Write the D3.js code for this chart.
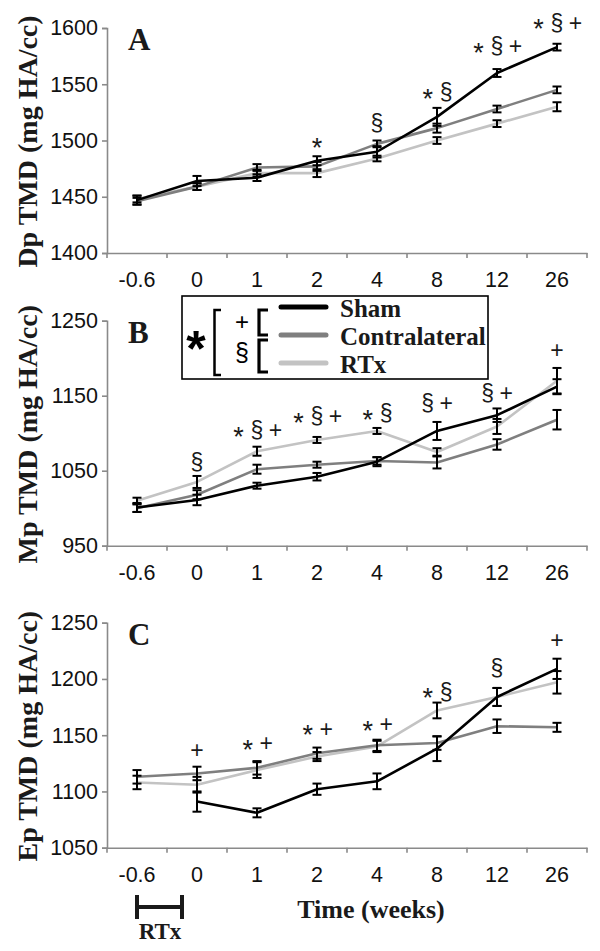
<!DOCTYPE html>
<html>
<head>
<meta charset="utf-8">
<script src="https://cdn.jsdelivr.net/npm/d3@7"></script>
<style>
  html, body { margin: 0; padding: 0; background: #fff; }
  svg { display: block; }
</style>
</head>
<body>
<svg id="chart" width="600" height="951"></svg>
<script>
// ---------- data ----------
const weeks = ["-0.6", "0", "1", "2", "4", "8", "12", "26"];
const seriesNames = ["Sham", "Contralateral", "RTx"];

// Panel A: Dp TMD
const ticksA = [1400, 1450, 1500, 1550, 1600];
const shamA = [1447, 1464, 1467, 1482, 1490, 1521, 1560, 1583];
const shamAErr = [4, 4.5, 3, 4, 5, 8, 3.5, 3];
const contraA = [1446, 1459, 1476, 1477, 1497, 1511, 1528, 1545];
const contraAErr = [3, 3, 3, 4, 3, 4, 3, 3];
const rtxA = [1448, 1459, 1471, 1471, 1484, 1500, 1515, 1530];
const rtxAErr = [3, 3, 3, 3.5, 2.5, 3, 3, 4];
const annA = ["", "", "", "*", "§", "* §", "* § +", "* § +"];
const annALevel = [null, null, null, 1500, 1516, 1543, 1584, 1605];

// Panel B: Mp TMD
const ticksB = [950, 1050, 1150, 1250];
const shamB = [1001, 1011, 1030, 1042, 1062, 1103, 1124, 1162];
const shamBErr = [6, 7, 4, 5, 6, 12, 9, 10];
const contraB = [1000, 1018, 1052, 1058, 1063, 1061, 1085, 1118];
const contraBErr = [5, 6, 6, 4, 5, 8, 7, 13];
const rtxB = [1010, 1035, 1076, 1091, 1103, 1075, 1109, 1170];
const rtxBErr = [4, 8, 6, 4, 4, 5, 10, 17];
const annB = ["", "§", "* § +", "* § +", "* §", "§ +", "§ +", "+"];
const annBLevel = [null, 1062, 1104, 1123, 1127, 1140, 1154, 1211];

// Panel C: Ep TMD
const ticksC = [1050, 1100, 1150, 1200, 1250];
const shamC = [null, 1091, 1081, 1102, 1109, 1138, 1184, 1209];
const shamCErr = [null, 9, 4, 5, 7, 11, 8, 9];
const contraC = [1113, 1116, 1121, 1134, 1141, 1143, 1158, 1157];
const contraCErr = [6, 6, 6, 5, 5, 6, 6, 4];
const rtxC = [1108, 1106, 1119, 1131, 1140, 1172, 1184, 1197];
const rtxCErr = [6, 7, 7, 4, 5, 7, 8, 10];
const annC = ["", "+", "* +", "* +", "* +", "* §", "§", "+"];
const annCLevel = [null, 1137, 1143, 1156, 1160, 1189, 1210, 1235];

// ---------- layout / style ----------
const colors = { "Sham": "#000000", "Contralateral": "#7f7f7f", "RTx": "#c3c3c3" };
const axisColor = "#8a8a8a";
const plotLeft = 107, plotRight = 587, plotH = 225;
const sansFont = "'Liberation Sans', Arial, sans-serif";
const serifFont = "'Liberation Serif', 'Times New Roman', serif";

const panels = [
  { letter: "A", title: "Dp TMD (mg HA/cc)", top: 28, ticks: ticksA,
    data: { "Sham": [shamA, shamAErr], "Contralateral": [contraA, contraAErr], "RTx": [rtxA, rtxAErr] },
    ann: annA, annLevel: annALevel },
  { letter: "B", title: "Mp TMD (mg HA/cc)", top: 320.7, ticks: ticksB,
    data: { "Sham": [shamB, shamBErr], "Contralateral": [contraB, contraBErr], "RTx": [rtxB, rtxBErr] },
    ann: annB, annLevel: annBLevel },
  { letter: "C", title: "Ep TMD (mg HA/cc)", top: 622.7, ticks: ticksC,
    data: { "Sham": [shamC, shamCErr], "Contralateral": [contraC, contraCErr], "RTx": [rtxC, rtxCErr] },
    ann: annC, annLevel: annCLevel }
];

const svg = d3.select("#chart");
const x = d3.scaleBand().domain(weeks).range([plotLeft, plotRight]).padding(0);
const cx = d => x(d) + x.bandwidth() / 2;

panels.forEach(p => {
  const bottom = p.top + plotH;
  const y = d3.scaleLinear().domain([p.ticks[0], p.ticks[p.ticks.length - 1]]).range([bottom, p.top]);
  const g = svg.append("g");

  // y axis
  const yAx = g.append("g").attr("transform", `translate(${plotLeft},0)`)
    .call(d3.axisLeft(y).tickValues(p.ticks).tickSize(5).tickPadding(4).tickFormat(d3.format("d")));
  yAx.select(".domain").attr("stroke", axisColor).attr("stroke-width", 1.6);
  yAx.selectAll(".tick line").attr("stroke", axisColor).attr("stroke-width", 1.6);
  yAx.selectAll(".tick text").attr("font-family", sansFont).attr("font-size", 21.5).attr("fill", "#111");

  // x axis (labels at band centres, tick marks at band edges)
  const xAx = g.append("g").attr("transform", `translate(0,${bottom})`)
    .call(d3.axisBottom(x).tickSize(0).tickPadding(19).tickSizeOuter(0));
  xAx.select(".domain").attr("stroke", axisColor).attr("stroke-width", 1.6);
  xAx.selectAll(".tick text").attr("font-family", sansFont).attr("font-size", 21.5).attr("fill", "#111");
  const edges = weeks.map(w => x(w)).concat([x.range()[1]]);
  xAx.selectAll("line.edge").data(edges).enter().append("line")
    .attr("class", "edge").attr("x1", d => d).attr("x2", d => d)
    .attr("y1", 0).attr("y2", 5).attr("stroke", axisColor).attr("stroke-width", 1.6);

  // y axis title
  g.append("text")
    .attr("transform", `translate(37,${(p.top + bottom) / 2 + 1}) rotate(-90)`)
    .attr("text-anchor", "middle")
    .attr("font-family", serifFont).attr("font-weight", "bold").attr("font-size", 28)
    .attr("fill", "#1a1a1a")
    .text(p.title);

  // panel letter
  g.append("text")
    .attr("x", 128).attr("y", p.top + 22)
    .attr("font-family", serifFont).attr("font-weight", "bold").attr("font-size", 31)
    .attr("fill", "#1a1a1a")
    .text(p.letter);

  // lines
  const line = d3.line()
    .defined(d => d.v != null)
    .x(d => cx(d.w)).y(d => y(d.v));
  ["RTx", "Contralateral", "Sham"].forEach(name => {
    const vals = p.data[name][0];
    const pts = weeks.map((w, i) => ({ w, v: vals[i] }));
    g.append("path").datum(pts)
      .attr("d", line).attr("fill", "none")
      .attr("stroke", colors[name]).attr("stroke-width", 2.6)
      .attr("stroke-linejoin", "round");
  });

  // error bars (black)
  ["RTx", "Contralateral", "Sham"].forEach(name => {
    const [vals, errs] = p.data[name];
    const pts = weeks.map((w, i) => ({ w, v: vals[i], e: errs[i] })).filter(d => d.v != null);
    const eb = g.append("g").attr("stroke", "#000").attr("stroke-width", 2);
    eb.selectAll("line.v").data(pts).enter().append("line")
      .attr("x1", d => cx(d.w)).attr("x2", d => cx(d.w))
      .attr("y1", d => y(d.v - d.e)).attr("y2", d => y(d.v + d.e));
    eb.selectAll("line.t").data(pts).enter().append("line")
      .attr("x1", d => cx(d.w) - 4.5).attr("x2", d => cx(d.w) + 4.5)
      .attr("y1", d => y(d.v + d.e)).attr("y2", d => y(d.v + d.e));
    eb.selectAll("line.b").data(pts).enter().append("line")
      .attr("x1", d => cx(d.w) - 4.5).attr("x2", d => cx(d.w) + 4.5)
      .attr("y1", d => y(d.v - d.e)).attr("y2", d => y(d.v - d.e));
  });

  // significance annotations: one text per symbol, evenly spaced
  weeks.forEach((w, i) => {
    if (!p.ann[i]) return;
    const toks = p.ann[i].split(" ");
    const yc = y(p.annLevel[i]);
    toks.forEach((tok, k) => {
      const xc = cx(w) + (k - (toks.length - 1) / 2) * 18.5;
      const t = g.append("text")
        .attr("x", xc).attr("text-anchor", "middle")
        .attr("font-family", sansFont).attr("fill", "#1a1a1a").text(tok);
      if (tok === "*") {
        t.attr("font-size", 27).attr("y", yc + 16);
      } else {
        t.attr("font-size", 23).attr("y", yc).attr("dy", "0.36em");
      }
    });
  });
});

// ---------- legend ----------
const lg = svg.append("g");
lg.append("rect").attr("x", 182).attr("y", 296).attr("width", 306).attr("height", 83)
  .attr("fill", "#fff").attr("stroke", "#000").attr("stroke-width", 1.6);
lg.append("text").attr("x", 196).attr("y", 366).attr("text-anchor", "middle")
  .attr("font-family", sansFont).attr("font-weight", "bold").attr("font-size", 50).attr("fill", "#000")
  .text("*");
lg.append("path").attr("d", "M221,310 H214.5 V375 H221")
  .attr("fill", "none").attr("stroke", "#000").attr("stroke-width", 2.5);
lg.append("text").attr("x", 242).attr("y", 322).attr("dy", "0.35em").attr("text-anchor", "middle")
  .attr("font-family", sansFont).attr("font-size", 24).attr("fill", "#000").text("+");
lg.append("text").attr("x", 242).attr("y", 352).attr("dy", "0.35em").attr("text-anchor", "middle")
  .attr("font-family", sansFont).attr("font-size", 25).attr("fill", "#000").text("§");
lg.append("path").attr("d", "M268,310 H259 V335 H268")
  .attr("fill", "none").attr("stroke", "#000").attr("stroke-width", 3.2);
lg.append("path").attr("d", "M268,340 H259 V372 H268")
  .attr("fill", "none").attr("stroke", "#000").attr("stroke-width", 3.2);
const legY = [307, 335, 363];
seriesNames.forEach((name, i) => {
  lg.append("line").attr("x1", 281).attr("x2", 326).attr("y1", legY[i]).attr("y2", legY[i])
    .attr("stroke", colors[name]).attr("stroke-width", 5).attr("stroke-linecap", "round");
  lg.append("text").attr("x", 340).attr("y", legY[i] + 9.5)
    .attr("font-family", serifFont).attr("font-weight", "bold").attr("font-size", 25).attr("fill", "#1a1a1a")
    .text(name);
});

// ---------- x title and RTx period marker ----------
svg.append("text").attr("x", 371).attr("y", 918).attr("text-anchor", "middle")
  .attr("font-family", serifFont).attr("font-weight", "bold").attr("font-size", 26).attr("fill", "#1a1a1a")
  .text("Time (weeks)");
const rb = svg.append("g").attr("stroke", "#1a1a1a").attr("stroke-width", 4);
rb.append("line").attr("x1", 137).attr("x2", 182).attr("y1", 907).attr("y2", 907);
rb.append("line").attr("x1", 137).attr("x2", 137).attr("y1", 895).attr("y2", 919);
rb.append("line").attr("x1", 182).attr("x2", 182).attr("y1", 895).attr("y2", 919);
svg.append("text").attr("x", 160).attr("y", 939).attr("text-anchor", "middle")
  .attr("font-family", serifFont).attr("font-weight", "bold").attr("font-size", 23).attr("fill", "#1a1a1a")
  .text("RTx");
</script>
</body>
</html>
